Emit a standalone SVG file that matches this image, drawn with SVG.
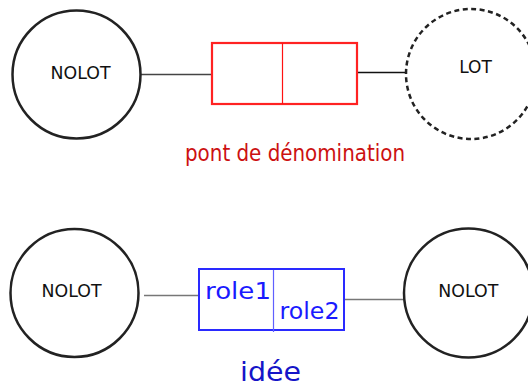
<svg xmlns="http://www.w3.org/2000/svg" width="528" height="387" viewBox="0 0 528 387">
  <style>
    .entity { fill: none; stroke: #222; stroke-width: 2.5; }
    .dashed { stroke-dasharray: 5 3.5; }
    .label { font-family: "DejaVu Sans", sans-serif; font-size: 17px; fill: #111; text-anchor: middle; }
    .bridge { fill: none; stroke: #f22; stroke-width: 2.2; }
    .bridge-div { stroke: #f11; stroke-width: 1.2; }
    .role-box { fill: none; stroke: #2a2aff; stroke-width: 2; }
    .role-div { stroke: #6060ff; stroke-width: 1.2; }
    .role { font-family: "DejaVu Sans", sans-serif; font-size: 22.5px; fill: #1a1aff; }
    .caption-red { font-family: "DejaVu Sans Condensed", "DejaVu Sans", sans-serif; font-size: 23px; fill: #cc1111; }
    .caption-blue { font-family: "DejaVu Sans", sans-serif; font-size: 26px; fill: #1515c8; }
  </style>

  <!-- connectors -->
  <g id="connectors">
    <line x1="141" y1="74.5" x2="212" y2="74.5" stroke="#444" stroke-width="1.3"/>
    <line x1="357" y1="72.5" x2="406" y2="72.5" stroke="#111" stroke-width="1.3"/>
    <line x1="144" y1="295.5" x2="198" y2="295.5" stroke="#777" stroke-width="1.5"/>
    <line x1="345" y1="299.5" x2="403" y2="299.5" stroke="#777" stroke-width="1.5"/>
  </g>

  <!-- upper row: naming bridge -->
  <g id="nolot-top">
    <circle class="entity" cx="76.5" cy="74.5" r="64"/>
    <text class="label" x="80.5" y="79" textLength="60" lengthAdjust="spacingAndGlyphs">NOLOT</text>
  </g>

  <g id="bridge">
    <rect class="bridge" x="212" y="43" width="145" height="61"/>
    <line class="bridge-div" x1="282.5" y1="43" x2="282.5" y2="104"/>
  </g>

  <g id="lot">
    <circle class="entity dashed" cx="471" cy="74" r="65"/>
    <text class="label" x="475.5" y="72.5">LOT</text>
  </g>

  <g id="caption-bridge">
    <text class="caption-red" x="185" y="161" textLength="220" lengthAdjust="spacingAndGlyphs">pont de dénomination</text>
  </g>

  <!-- lower row: roles -->
  <g id="nolot-left">
    <circle class="entity" cx="74.5" cy="293" r="64"/>
    <text class="label" x="71.5" y="296.5" textLength="60" lengthAdjust="spacingAndGlyphs">NOLOT</text>
  </g>

  <g id="roles">
    <rect class="role-box" x="199" y="269" width="145" height="61"/>
    <line class="role-div" x1="273.5" y1="270" x2="273.5" y2="332"/>
    <text class="role" x="205" y="299" textLength="66" lengthAdjust="spacingAndGlyphs">role1</text>
    <text class="role" x="279.5" y="319" textLength="60" lengthAdjust="spacingAndGlyphs">role2</text>
  </g>

  <g id="nolot-right">
    <circle class="entity" cx="468.5" cy="293" r="64.5"/>
    <text class="label" x="468.3" y="296.5" textLength="60" lengthAdjust="spacingAndGlyphs">NOLOT</text>
  </g>

  <g id="caption-idea">
    <text class="caption-blue" x="240" y="381" textLength="61" lengthAdjust="spacingAndGlyphs">idée</text>
  </g>
</svg>
